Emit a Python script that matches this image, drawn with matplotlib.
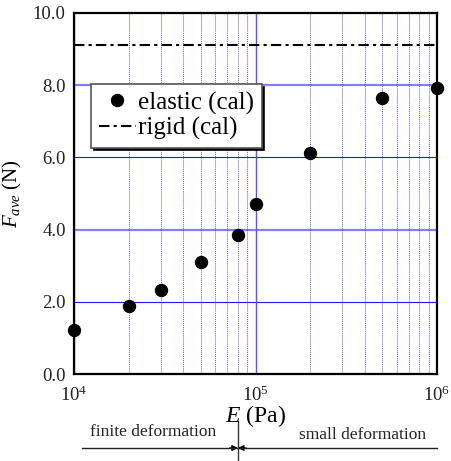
import matplotlib
matplotlib.use("Agg")
import matplotlib.pyplot as plt
import matplotlib.transforms as mtransforms
from matplotlib.ticker import LogLocator, NullFormatter

plt.rcParams['font.family'] = ['Liberation Serif', 'DejaVu Serif']
plt.rcParams['mathtext.fontset'] = 'custom'
plt.rcParams['mathtext.rm'] = 'Liberation Serif'
plt.rcParams['mathtext.it'] = 'Liberation Serif:italic'

# Young's modulus (Pa) and average force (N)
E_elastic = [1e4, 2e4, 3e4, 5e4, 8e4, 1e5, 2e5, 5e5, 1e6]
F_elastic = [1.22, 1.88, 2.32, 3.10, 3.85, 4.72, 6.11, 7.64, 7.92]
F_rigid = 9.11
E_boundary = 8e4

y_ticks = [0.0, 2.0, 4.0, 6.0, 8.0, 10.0]
y_ticklabels = ["0.0", "2.0", "4.0", "6.0", "8.0", "10.0"]

fig = plt.figure(figsize=(4.51, 4.61), dpi=100)
ax = fig.add_axes([74/451, 87/461, 363/451, 361/461])

ax.set_xscale('log')
ax.set_xlim(1e4, 1e6)
ax.set_ylim(0, 10)

# grid
ax.xaxis.set_minor_locator(LogLocator(base=10, subs=range(2, 10)))
ax.xaxis.set_minor_formatter(NullFormatter())
ax.grid(which='minor', axis='x', color='#3333ff', lw=0.7, ls=(0, (1, 1)), alpha=0.8)
ax.grid(which='major', axis='x', color='#5555ff', lw=1.0, ls='-')
for yv, col, lw in [(2, '#1a1aff', 0.8), (4, '#8080ff', 1.6), (6, '#1a1aff', 0.8), (8, '#8080ff', 1.6)]:
    ax.axhline(yv, color=col, lw=lw, zorder=1)

ax.set_yticks(y_ticks)
ax.set_yticklabels(y_ticklabels)
ax.tick_params(which='both', length=0, labelsize=13.5, colors='#222222')
ax.tick_params(axis='y', pad=6)
ax.tick_params(axis='x', pad=8)

for sp in ax.spines.values():
    sp.set_linewidth(1.6)
    sp.set_zorder(5)

ax.axhline(F_rigid, color='black', lw=1.5, ls=(0, (5, 2, 1.5, 2)), zorder=3,
           label='rigid (cal)')
ax.plot(E_elastic, F_elastic, 'o', color='black', ms=8.6, zorder=6, clip_on=False,
        label='elastic (cal)')

handles, labels = ax.get_legend_handles_labels()
leg = ax.legend(handles[::-1], labels[::-1], loc='upper left',
                bbox_to_anchor=(17/363, 290/361), fontsize=18, frameon=True,
                fancybox=False, shadow={'color': 'black', 'alpha': 1},
                edgecolor='#555555', framealpha=1, handlelength=1.5,
                handletextpad=0.08, borderpad=0.3, labelspacing=0.1,
                borderaxespad=0)
leg.get_frame().set_linewidth(1.2)
leg.set_zorder(7)

ax.set_xlabel(r'$\mathit{E}$ (Pa)', fontsize=17, labelpad=-1)
ax.set_ylabel(r'$\mathit{F}_{\mathit{ave}}$ (N)', fontsize=15, labelpad=6)

# deformation regime annotation below the axis
tr = mtransforms.blended_transform_factory(ax.transData, fig.transFigure)
y_line = 1 - 448/461
fig.add_artist(plt.Line2D([82/451, 437/451], [y_line, y_line], color='#222222',
                          lw=1.0, transform=fig.transFigure))
ax.plot([E_boundary, E_boundary], [1 - 421/461, 0], color='#333333', lw=1.0,
        transform=tr, clip_on=False)
ax.annotate('', xy=(E_boundary, y_line), xytext=(E_boundary * 0.9, y_line),
            xycoords=tr, textcoords=tr,
            arrowprops=dict(arrowstyle='-|>', color='black', lw=1.0,
                            mutation_scale=8, shrinkA=0, shrinkB=0))
ax.annotate('', xy=(E_boundary, y_line), xytext=(E_boundary * 1.11, y_line),
            xycoords=tr, textcoords=tr,
            arrowprops=dict(arrowstyle='-|>', color='black', lw=1.0,
                            mutation_scale=8, shrinkA=0, shrinkB=0))
fig.text(153/451, 1 - 432/461, 'finite deformation', ha='center', va='center',
         fontsize=12.5, color='#222222')
fig.text(363/451, 1 - 435/461, 'small deformation', ha='center', va='center',
         fontsize=12.5, color='#222222')

fig.savefig('out.png', dpi=100)
